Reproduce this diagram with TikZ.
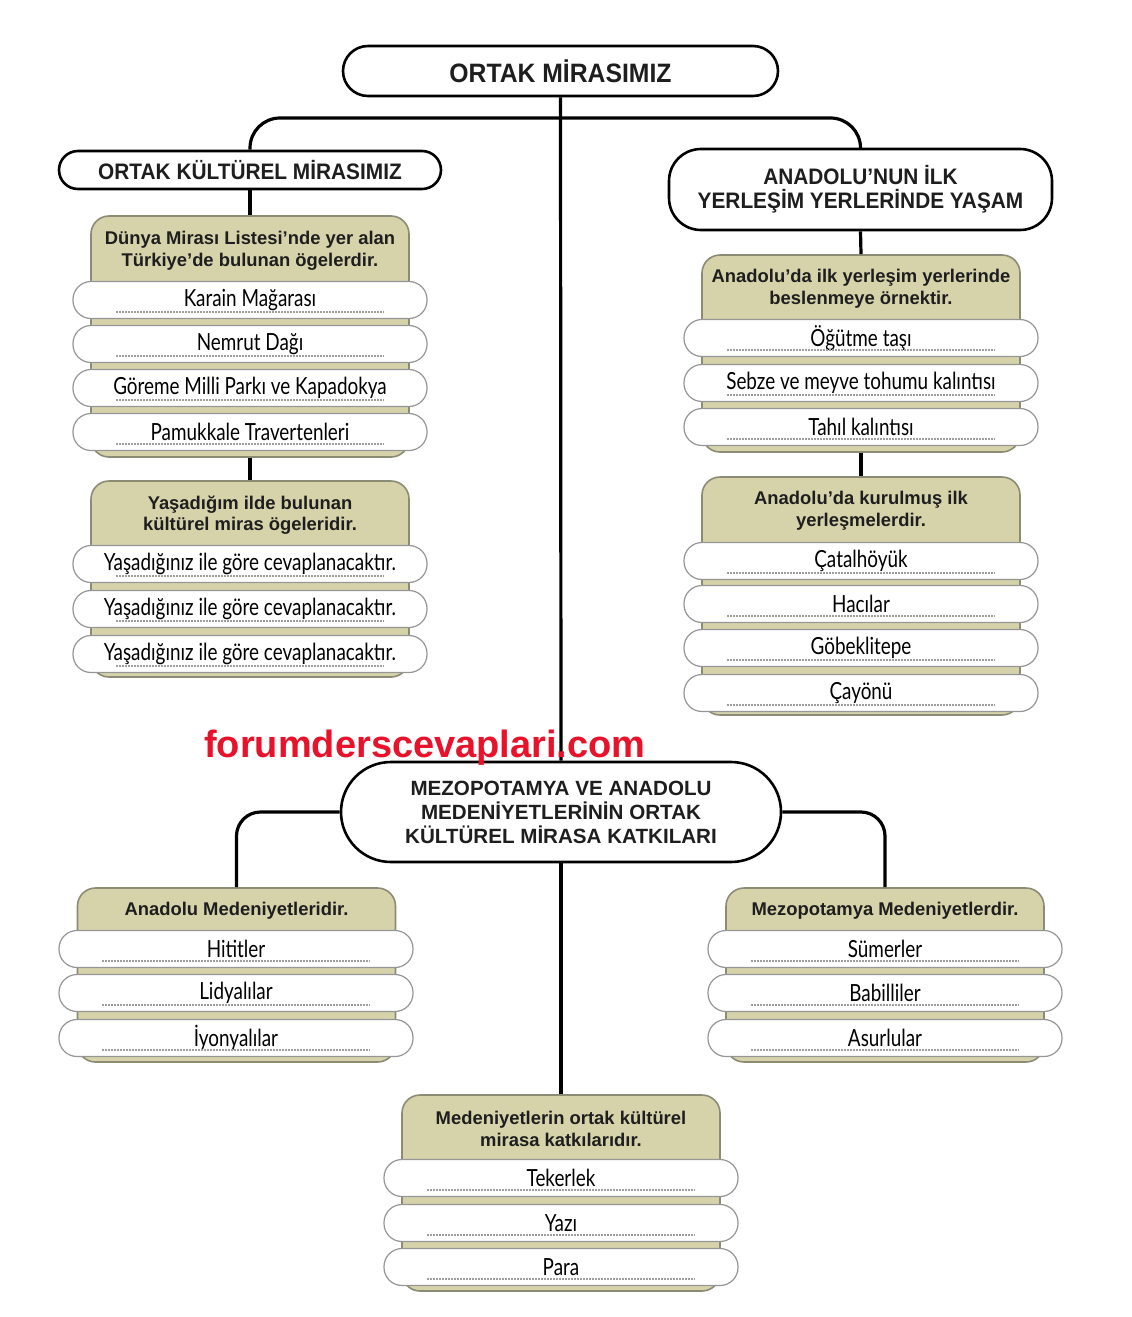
\documentclass[tikz,border=0pt]{standalone}
\usepackage{fontspec}
\setmainfont{Liberation Sans}
\newfontfamily\narrowf[FakeStretch=0.93]{Liberation Sans}
\newfontfamily\handf[FakeStretch=0.8]{Lato}
\usetikzlibrary{shapes.misc}
\definecolor{olive}{RGB}{214,211,171}
\definecolor{olivedraw}{RGB}{140,140,118}
\definecolor{pillgray}{RGB}{150,150,150}
\definecolor{wmred}{RGB}{232,18,42}
\definecolor{txt}{RGB}{30,30,30}
\newcommand\itm[4]{%
  \node[item] (#1) at (#2,#3) {#4};
  \draw[dotline] ([xshift=22pt,yshift=-6pt]#1.west) -- ([xshift=-22pt,yshift=-6pt]#1.east);}
\tikzset{
  conn/.style={line width=1.6pt, black},
  bigbox/.style={draw=black, line width=1.3pt, fill=white, text=txt, align=center, inner sep=0pt},
  groupbox/.style={draw=olivedraw, fill=olive, line width=0.8pt, rounded corners=9pt, minimum width=159pt, inner sep=0pt},
  hdrtxt/.style={font=\bfseries\fontsize{9.2}{10.8}\selectfont, text=txt, align=center, inner sep=0pt},
  item/.style={draw=pillgray, fill=white, line width=0.6pt, rounded corners=9pt, minimum width=177pt, minimum height=18.5pt, inner sep=0pt, font=\handf\fontsize{11.8}{13}\selectfont, text=black},
  dotline/.style={draw=gray!75, line width=0.6pt, dash pattern=on 0.6pt off 0.9pt},
}
\begin{document}
\begin{tikzpicture}[x=0.5pt,y=-0.5pt]
\path[use as bounding box, fill=white] (0,0) rectangle (1131,1317);

% main boxes
\node[bigbox, rounded rectangle, minimum width=217.5pt, minimum height=25pt, font=\narrowf\bfseries\fontsize{13.3}{15}\selectfont] (title) at (560.5,71) {ORTAK MİRASIMIZ};
\node[bigbox, rounded rectangle, minimum width=191pt, minimum height=19pt, font=\narrowf\bfseries\fontsize{11.2}{13}\selectfont] (kultur) at (250,170) {ORTAK KÜLTÜREL MİRASIMIZ};
\node[bigbox, rectangle, rounded corners=16pt, minimum width=191.5pt, minimum height=40.5pt, font=\narrowf\bfseries\fontsize{11.2}{12}\selectfont] (yasam) at (860.5,189.5) {ANADOLU’NUN İLK\\YERLEŞİM YERLERİNDE YAŞAM};
\node[bigbox, rounded rectangle, minimum width=220pt, minimum height=50pt, font=\bfseries\fontsize{10.3}{12}\selectfont] (meso) at (561,812) {MEZOPOTAMYA VE ANADOLU\\MEDENİYETLERİNİN ORTAK\\KÜLTÜREL MİRASA KATKILARI};

% group boxes
\node[groupbox, minimum height=120.5pt] (g1) at (250,336.5) {};
\node[groupbox, minimum height=98pt] (g2) at (250,579) {};
\node[groupbox, minimum height=98.5pt] (g3) at (861,353.5) {};
\node[groupbox, minimum height=119pt] (g4) at (861,596) {};
\node[groupbox, minimum height=87pt] (g5) at (236.5,975) {};
\node[groupbox, minimum height=87pt] (g6) at (885,975) {};
\node[groupbox, minimum height=98pt] (g7) at (561,1193) {};

% headers
\node[hdrtxt] (h1) at (250,251) {Dünya Mirası Listesi’nde yer alan\\Türkiye’de bulunan ögelerdir.};
\node[hdrtxt] (h2) at (250,515) {Yaşadığım ilde bulunan\\kültürel miras ögeleridir.};
\node[hdrtxt] (h3) at (861,289) {Anadolu’da ilk yerleşim yerlerinde\\beslenmeye örnektir.};
\node[hdrtxt] (h4) at (861,511) {Anadolu’da kurulmuş ilk\\yerleşmelerdir.};
\node[hdrtxt] (h5) at (236.5,911) {Anadolu Medeniyetleridir.};
\node[hdrtxt] (h6) at (885,911) {Mezopotamya Medeniyetlerdir.};
\node[hdrtxt] (h7) at (561,1129) {Medeniyetlerin ortak kültürel\\mirasa katkılarıdır.};

% items
\itm{a1}{250}{300}{Karain Mağarası}
\itm{a2}{250}{344}{Nemrut Dağı}
\itm{a3}{250}{388}{Göreme Milli Parkı ve Kapadokya}
\itm{a4}{250}{432}{Pamukkale Travertenleri}
\itm{b1}{250}{564}{Yaşadığınız ile göre cevaplanacaktır.}
\itm{b2}{250}{609}{Yaşadığınız ile göre cevaplanacaktır.}
\itm{b3}{250}{654}{Yaşadığınız ile göre cevaplanacaktır.}
\itm{c1}{861}{338}{Öğütme taşı}
\itm{c2}{861}{383}{Sebze ve meyve tohumu kalıntısı}
\itm{c3}{861}{427}{Tahıl kalıntısı}
\itm{d1}{861}{561}{Çatalhöyük}
\itm{d2}{861}{604}{Hacılar}
\itm{d3}{861}{648}{Göbeklitepe}
\itm{d4}{861}{693}{Çayönü}
\itm{e1}{236}{949}{Hititler}
\itm{e2}{236}{993}{Lidyalılar}
\itm{e3}{236}{1038}{İyonyalılar}
\itm{f1}{885}{949}{Sümerler}
\itm{f2}{885}{993}{Babilliler}
\itm{f3}{885}{1038}{Asurlular}
\itm{k1}{561}{1178}{Tekerlek}
\itm{k2}{561}{1223}{Yazı}
\itm{k3}{561}{1267}{Para}

% connectors
\coordinate (bar) at (560,118);
\draw[conn, rounded corners=15pt] (kultur.north) |- (bar) -| (yasam.north);
\draw[conn] (title.south) -- (meso.north);
\draw[conn] (kultur.south) -- (g1.north);
\draw[conn] (g1.south) -- (g2.north);
\draw[conn] (yasam.south) -- (g3.north);
\draw[conn] (g3.south) -- (g4.north);
\draw[conn, rounded corners=12pt] (meso.west) -| (g5.north);
\draw[conn, rounded corners=12pt] (meso.east) -| (g6.north);
\draw[conn] (meso.south) -- (g7.north);

% watermark
\node[font=\bfseries\fontsize{19}{22}\selectfont, text=wmred, inner sep=0pt] (wm) at (425,748) {forumderscevaplari.com};
\end{tikzpicture}
\end{document}
